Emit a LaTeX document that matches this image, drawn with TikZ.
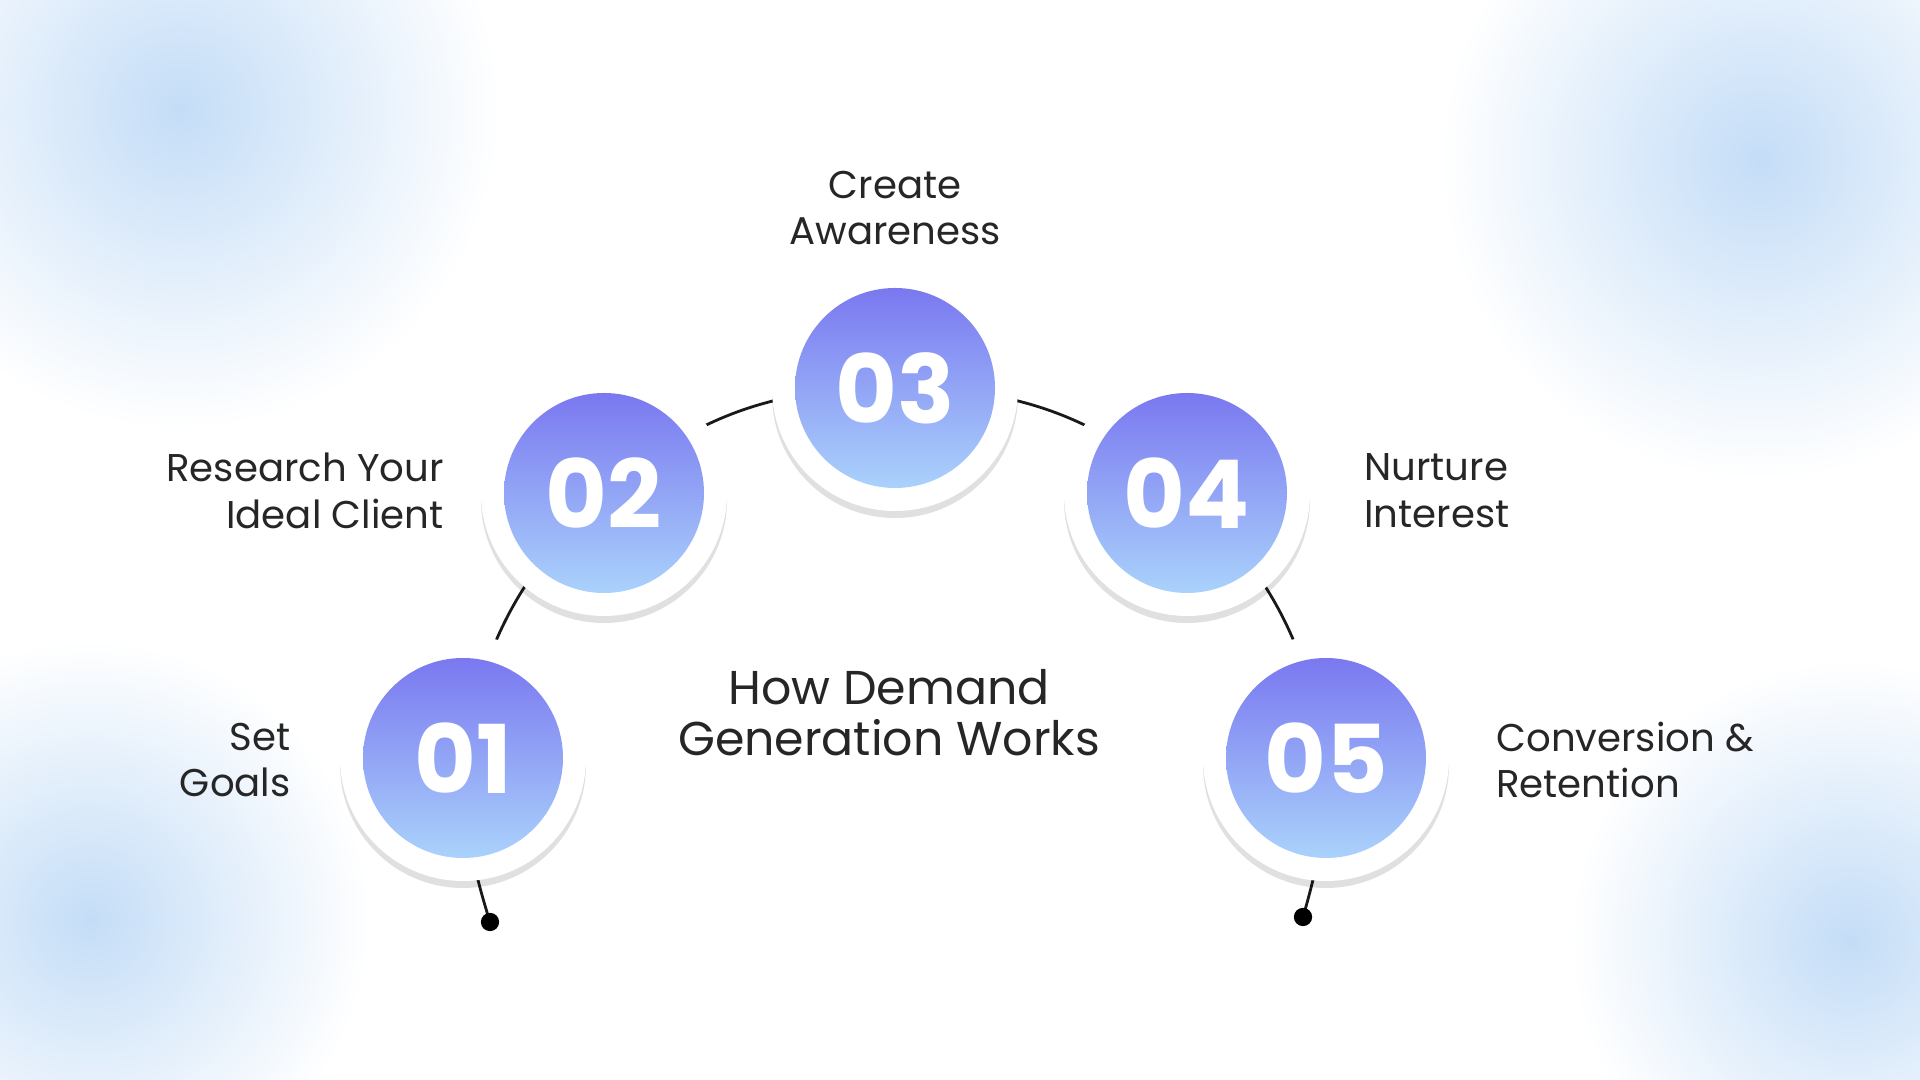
\documentclass[tikz,border=0pt]{standalone}
\usepackage{fontspec}
\setmainfont{Poppins}
\usetikzlibrary{shadows}
\definecolor{stepTop}{HTML}{7A78F0}
\definecolor{stepBot}{HTML}{AAD2FB}
\definecolor{haze}{HTML}{C4DDF7}
\begin{document}
\begin{tikzpicture}[
    ring/.style={circle, fill=white, minimum size=2.46cm, inner sep=0pt,
      drop shadow={shadow xshift=0pt, shadow yshift=-2pt, opacity=.12, fill=black}},
    disc/.style={circle, minimum size=2.0cm, inner sep=0pt, top color=stepTop,
      bottom color=stepBot, text=white, font=\fontsize{27}{30}\selectfont\bfseries},
    label/.style={font=\fontsize{11}{13.3}\selectfont, text=black!85, align=#1},
    link/.style={thick, black!90}]
    % Background
    \fill[white] (0,0) rectangle (19.2,10.8);
    \begin{scope}
      \clip (0,0) rectangle (19.2,10.8);
      \shade[inner color=haze, outer color=white] (1.8,9.7) circle (3.2);
      \shade[inner color=haze, outer color=white] (17.6,9.2) circle (3.2);
      \shade[inner color=haze, outer color=white] (0.9,1.6) circle (2.8);
      \shade[inner color=haze, outer color=white] (18.5,1.4) circle (2.8);
    \end{scope}
    \useasboundingbox (0,0) rectangle (19.2,10.8);

    % Coordinates
    \coordinate (p1) at (4.63,3.22);
    \coordinate (p2) at (6.04,5.87);
    \coordinate (p3) at (8.95,6.92);
    \coordinate (p4) at (11.87,5.87);
    \coordinate (p5) at (13.26,3.22);
    \coordinate (d1) at (4.90,1.58);
    \coordinate (d5) at (13.03,1.63);

    % Path behind the steps
    \draw[link] (d1) to[bend left=8] (p1);
    \draw[link] (p1) to[bend left=18] (p2);
    \draw[link] (p2) to[bend left=20] (p3);
    \draw[link] (p3) to[bend left=20] (p4);
    \draw[link] (p4) to[bend left=18] (p5);
    \draw[link] (p5) to[bend left=8] (d5);
    \fill (d1) circle (2.6pt);
    \fill (d5) circle (2.6pt);

    % Steps
    \foreach \i in {1,...,5} {
      \node[ring] (r\i) at (p\i) {};
      \node[disc] (c\i) at (p\i) {0\i};
    }

    % Texts
    \node[label=center] (t3) at (8.95,8.72) {Create\\Awareness};
    \node[label=right, anchor=east] (t2) at (4.56,5.89) {Research Your\\Ideal Client};
    \node[label=right, anchor=east] (t1) at (3.03,3.2) {Set\\Goals};
    \node[label=left, anchor=west] (t4) at (13.52,5.89) {Nurture\\Interest};
    \node[label=left, anchor=west] (t5) at (14.84,3.2) {Conversion \&\\Retention};
    \node[align=center, font=\fontsize{13.5}{14.5}\selectfont, text=black!85] (title)
      at (8.89,3.67) {How Demand\\Generation Works};
\end{tikzpicture}
\end{document}
